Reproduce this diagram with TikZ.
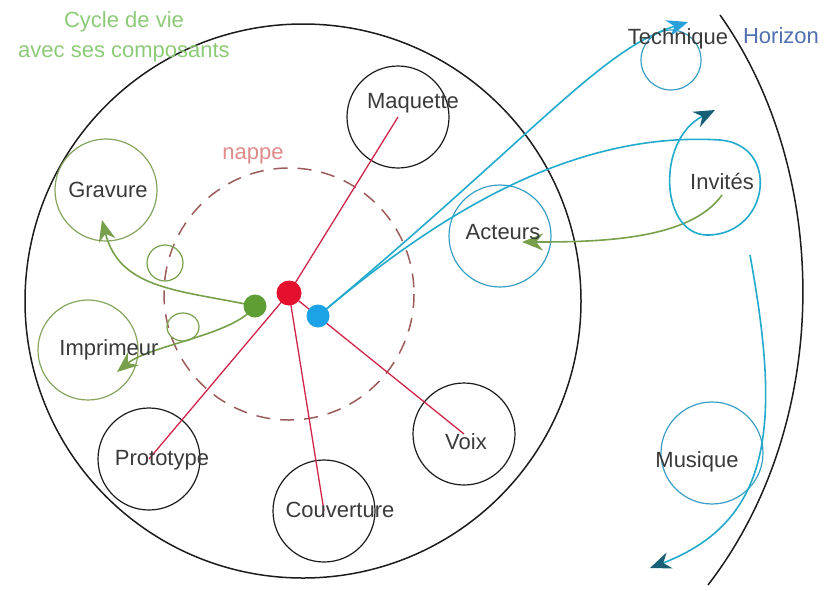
\documentclass[tikz,border=0pt]{standalone}
\usepackage{fontspec}
\setmainfont{Liberation Sans}
\usepackage{xcolor}
\usetikzlibrary{arrows.meta}
\definecolor{RingBlack}{HTML}{1C1C1C}
\definecolor{LabelGray}{HTML}{3A3A3A}
\definecolor{SpokeRed}{HTML}{D0244A}
\definecolor{HubRed}{HTML}{E5102E}
\definecolor{HubBlue}{HTML}{1CA2E6}
\definecolor{HubGreen}{HTML}{5E9E34}
\definecolor{NappeRed}{HTML}{9C5C5C}
\definecolor{NappeText}{HTML}{E08A8A}
\definecolor{CycleGreen}{HTML}{86A45E}
\definecolor{FlowGreen}{HTML}{78A04C}
\definecolor{TitleGreen}{HTML}{8CCB78}
\definecolor{RingCyan}{HTML}{3A9EC4}
\definecolor{FlowCyan}{HTML}{22AACC}
\definecolor{TipTeal}{HTML}{175F74}
\definecolor{TipBlue}{HTML}{2AA0DA}
\definecolor{HorizonBlue}{HTML}{4F6FB0}

\begin{document}
\begin{tikzpicture}[x=1pt, y=-1pt,
  ring/.style={circle, draw=RingBlack, line width=1.2pt, inner sep=0pt, minimum size=102pt},
  greenring/.style={ring, draw=CycleGreen},
  bluering/.style={ring, draw=RingCyan},
  word/.style={text=LabelGray, font=\fontsize{22}{26}\selectfont, inner sep=0pt},
  hubdot/.style={circle, inner sep=0pt, minimum size=23pt},
  spoke/.style={draw=SpokeRed, line width=1.3pt},
  bluepath/.style={draw=FlowCyan, line width=1.6pt},
  greenpath/.style={draw=FlowGreen, line width=1.6pt},
  darktip/.style={-{Stealth[length=21pt, width=17pt, color=TipTeal]}},
  lighttip/.style={-{Stealth[length=21pt, width=17pt, color=TipBlue]}},
  greentip/.style={-{Stealth[length=21pt, width=17pt, color=FlowGreen]}}]
  \useasboundingbox (0,0) rectangle (824,590);

  \draw[RingBlack, line width=1.5pt] (303,301) ellipse [x radius=278, y radius=277];
  \draw[NappeRed, line width=1.5pt, dash pattern=on 14pt off 10pt] (289,294) ellipse [x radius=125, y radius=126];
  \draw[RingBlack, line width=1.5pt] (720,15) .. controls (830,170) and (835,420) .. (708,585);

  \node[ring] (maquette) at (398,117) {};
  \node[ring] (prototype) at (149,459) {};
  \node[ring] (couverture) at (324,511) {};
  \node[ring] (voix) at (464,434) {};
  \node[greenring] (gravure) at (106,190) {};
  \node[greenring, minimum size=100pt] (imprimeur) at (88,350) {};
  \node[bluering] (acteurs) at (500,236) {};
  \node[bluering] (musique) at (712,453) {};
  \node[bluering, minimum size=60pt] (technique) at (671,60) {};

  \coordinate (redhub) at (289,293);
  \coordinate (bluehub) at (318,316);
  \coordinate (greenhub) at (255,306);
  \coordinate (gravure-in) at (102,220);
  \coordinate (imprimeur-in) at (117,372);
  \coordinate (invites-out) at (722,195);
  \coordinate (acteurs-in) at (522,242);
  \coordinate (technique-in) at (688,22);
  \coordinate (invites-in) at (715,110);
  \coordinate (musique-out) at (750,255);
  \coordinate (musique-in) at (650,568);

  \draw[spoke] (redhub) -- (maquette.center);
  \draw[spoke] (redhub) -- (prototype.center);
  \draw[spoke] (redhub) -- (couverture.center);
  \draw[spoke] (redhub) -- (voix.center);

  \draw[greenpath, greentip] (greenhub) .. controls (180,290) and (120,290) .. (gravure-in);
  \draw[greenpath, greentip] (greenhub) .. controls (235,335) and (150,345) .. (imprimeur-in);
  \draw[FlowGreen, line width=1.2pt] (165,263) circle [radius=18];
  \draw[FlowGreen, line width=1.2pt] (183,327) ellipse [x radius=16, y radius=14];
  \draw[greenpath, greentip] (invites-out) .. controls (690,240) and (600,242) .. (acteurs-in);

  \draw[bluepath, lighttip] (bluehub) .. controls (540,130) and (600,50) .. (technique-in);
  \draw[bluepath, darktip] (bluehub) .. controls (420,230) and (560,130) .. (720,140)
    .. controls (780,145) and (770,232) .. (710,235)
    .. controls (660,238) and (655,140) .. (invites-in);
  \draw[bluepath, darktip] (musique-out) .. controls (780,420) and (775,520) .. (musique-in);

  \node[hubdot, fill=HubGreen] (green) at (greenhub) {};
  \node[hubdot, fill=HubRed, minimum size=25pt] (red) at (redhub) {};
  \node[hubdot, fill=HubBlue] (blue) at (bluehub) {};

  \node[word] (maquette-t) at (413,103) {Maquette};
  \node[word] (prototype-t) at (162,460) {Prototype};
  \node[word] (couverture-t) at (340,510) {Couverture};
  \node[word] (voix-t) at (466,442) {Voix};
  \node[word] (gravure-t) at (108,190) {Gravure};
  \node[word] (imprimeur-t) at (109,350) {Imprimeur};
  \node[word] (acteurs-t) at (503,232) {Acteurs};
  \node[word] (invites-t) at (722,182) {Invités};
  \node[word] (musique-t) at (697,462) {Musique};
  \node[word] (technique-t) at (678,39) {Technique};
  \node[word, text=HorizonBlue] (horizon-t) at (781,36) {Horizon};
  \node[word, text=NappeText] (nappe-t) at (253,156) {nappe};
  \node[word, text=TitleGreen, align=center, font=\fontsize{22}{30}\selectfont] (cycle-t) at (124,37) {Cycle de vie\\avec ses composants};
\end{tikzpicture}
\end{document}
